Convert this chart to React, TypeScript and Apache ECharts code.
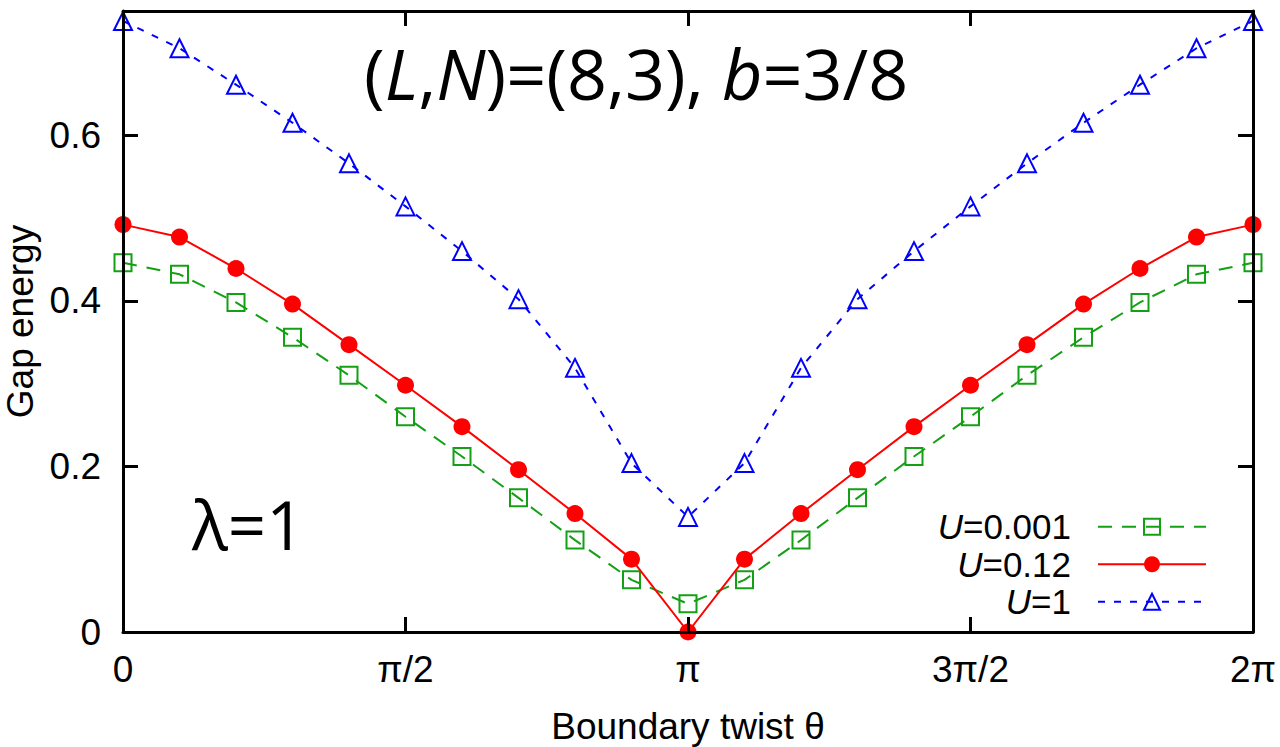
import React, { useEffect, useRef } from "react";
import * as echarts from "echarts";

// x positions in units of π (boundary twist θ / π)
const thetaOverPi = [0, 0.1, 0.2, 0.3, 0.4, 0.5, 0.6, 0.7, 0.8, 0.9, 1.0, 1.1, 1.2, 1.3, 1.4, 1.5, 1.6, 1.7, 1.8, 1.9, 2.0];
const gapU0001 = [0.446, 0.432, 0.398, 0.356, 0.31, 0.26, 0.212, 0.162, 0.111, 0.063, 0.034, 0.063, 0.111, 0.162, 0.212, 0.26, 0.31, 0.356, 0.398, 0.432, 0.446];
const gapU012 = [0.492, 0.477, 0.439, 0.396, 0.347, 0.298, 0.248, 0.196, 0.143, 0.088, 0.0, 0.088, 0.143, 0.196, 0.248, 0.298, 0.347, 0.396, 0.439, 0.477, 0.492];
const gapU1 = [0.738, 0.705, 0.661, 0.615, 0.566, 0.514, 0.46, 0.402, 0.319, 0.204, 0.139, 0.204, 0.319, 0.402, 0.46, 0.514, 0.566, 0.615, 0.661, 0.705, 0.738];
const seriesNames = ["U=0.001", "U=0.12", "U=1"];
const xTickValues = [0, 0.5, 1, 1.5, 2];
const xTickLabels = ["0", "π/2", "π", "3π/2", "2π"];
const yTickLabels: Record<string, string> = { "0": "0", "0.2": "0.2", "0.4": "0.4", "0.6": "0.6" };

const FONT = "'Liberation Sans', Arial, Helvetica, sans-serif";
const TFONT = "'Open Sans', 'Noto Sans', sans-serif";
const GREEN = "#14a014";
const RED = "#ff0000";
const BLUE = "#0000ff";

function pairs(ys: number[]) {
  return thetaOverPi.map((x, i) => [x, ys[i]]);
}

export default function App() {
  const ref = useRef<HTMLDivElement>(null);
  useEffect(() => {
    if (!ref.current) return;
    const chart = echarts.init(ref.current, undefined, { renderer: "svg" });
    const axisLine = { show: true, onZero: false, lineStyle: { color: "#000", width: 3 } };
    const tick = { show: true, inside: true, length: 15, lineStyle: { color: "#000", width: 3 } };
    const xLabelFmt = (v: number) => {
      const i = xTickValues.findIndex((t) => Math.abs(t - v) < 1e-6);
      return i >= 0 ? xTickLabels[i] : "";
    };
    const yLabelFmt = (v: number) => {
      const k = String(Math.round(v * 10) / 10);
      return Math.abs(v - Math.round(v * 10) / 10) < 1e-6 && yTickLabels[k] !== undefined ? yTickLabels[k] : "";
    };
    chart.setOption({
      animation: false,
      backgroundColor: "#fff",
      grid: { left: 123, right: 27, top: 11, bottom: 115, containLabel: false, outerBoundsMode: "none" },
      xAxis: [
        {
          type: "value",
          min: 0,
          max: 2,
          interval: 0.5,
          position: "bottom",
          axisLine,
          axisTick: tick,
          splitLine: { show: false },
          axisLabel: { formatter: xLabelFmt, fontSize: 37, fontFamily: FONT, color: "#000", margin: 19 },
          name: "Boundary twist θ",
          nameLocation: "middle",
          nameGap: 76,
          nameTextStyle: { fontSize: 37, fontFamily: FONT, color: "#000" },
          z: 5,
        },
        {
          type: "value",
          min: 0,
          max: 2,
          interval: 0.5,
          position: "top",
          axisLine,
          axisTick: tick,
          splitLine: { show: false },
          axisLabel: { show: false },
          z: 5,
        },
      ],
      yAxis: [
        {
          type: "value",
          min: 0,
          max: 0.75,
          interval: 0.2,
          position: "left",
          axisLine,
          axisTick: tick,
          splitLine: { show: false },
          axisLabel: { formatter: yLabelFmt, fontSize: 37, fontFamily: FONT, color: "#000", margin: 22, showMaxLabel: false },
          name: "Gap energy",
          nameLocation: "middle",
          nameGap: 82,
          nameTextStyle: { fontSize: 37, fontFamily: FONT, color: "#000" },
          z: 5,
        },
        {
          type: "value",
          min: 0,
          max: 0.75,
          interval: 0.2,
          position: "right",
          axisLine,
          axisTick: tick,
          splitLine: { show: false },
          axisLabel: { show: false },
          z: 5,
        },
      ],
      legend: {
        data: seriesNames,
        orient: "vertical",
        align: "right",
        right: 68,
        top: 503,
        itemWidth: 108,
        itemHeight: 20,
        itemGap: 0,
        selectedMode: false,
        formatter: (name: string) => `{i|U}{t|${name.slice(1)}}{g|}`,
        textStyle: {
          fontSize: 35,
          fontFamily: FONT,
          color: "#000",
          lineHeight: 37.5,
          rich: {
            i: { fontStyle: "italic", fontSize: 35, fontFamily: FONT, color: "#000", lineHeight: 37.5 },
            t: { fontSize: 35, fontFamily: FONT, color: "#000", lineHeight: 37.5 },
            g: { width: 22 },
          },
        },
      },
      graphic: [
        {
          type: "text",
          left: 364,
          top: 38,
          style: {
            text: "({i|L},{i|N})=(8,3), {i|b}=3/8",
            fontSize: 70,
            fontFamily: TFONT,
            fill: "#000",
            rich: {
              i: { fontStyle: "italic", fontSize: 70, fontFamily: TFONT, fill: "#000" },
            },
          },
        },
        {
          type: "text",
          left: 192,
          top: 490,
          style: {
            text: "λ=1",
            fontSize: 67,
            fontFamily: TFONT,
            fill: "#000",
          },
        },
      ],
      series: [
        {
          name: seriesNames[0],
          type: "line",
          data: pairs(gapU0001),
          symbol: "rect",
          symbolSize: 17,
          clip: false,
          itemStyle: { color: "rgba(0,0,0,0)", borderColor: GREEN, borderWidth: 2 },
          lineStyle: { color: GREEN, width: 2, type: [14, 10] },
          z: 2,
        },
        {
          name: seriesNames[1],
          type: "line",
          data: pairs(gapU012),
          symbol: "circle",
          symbolSize: 17,
          clip: false,
          itemStyle: { color: RED },
          lineStyle: { color: RED, width: 2, type: "solid" },
          z: 3,
        },
        {
          name: seriesNames[2],
          type: "line",
          data: pairs(gapU1),
          symbol: "triangle",
          symbolSize: 18,
          clip: false,
          itemStyle: { color: "rgba(0,0,0,0)", borderColor: BLUE, borderWidth: 2 },
          lineStyle: { color: BLUE, width: 2, type: [7, 9] },
          z: 4,
        },
      ],
    });
    return () => chart.dispose();
  }, []);
  return <div ref={ref} style={{ position: "absolute", left: 0, top: 0, width: 1280, height: 747 }} />;
}
